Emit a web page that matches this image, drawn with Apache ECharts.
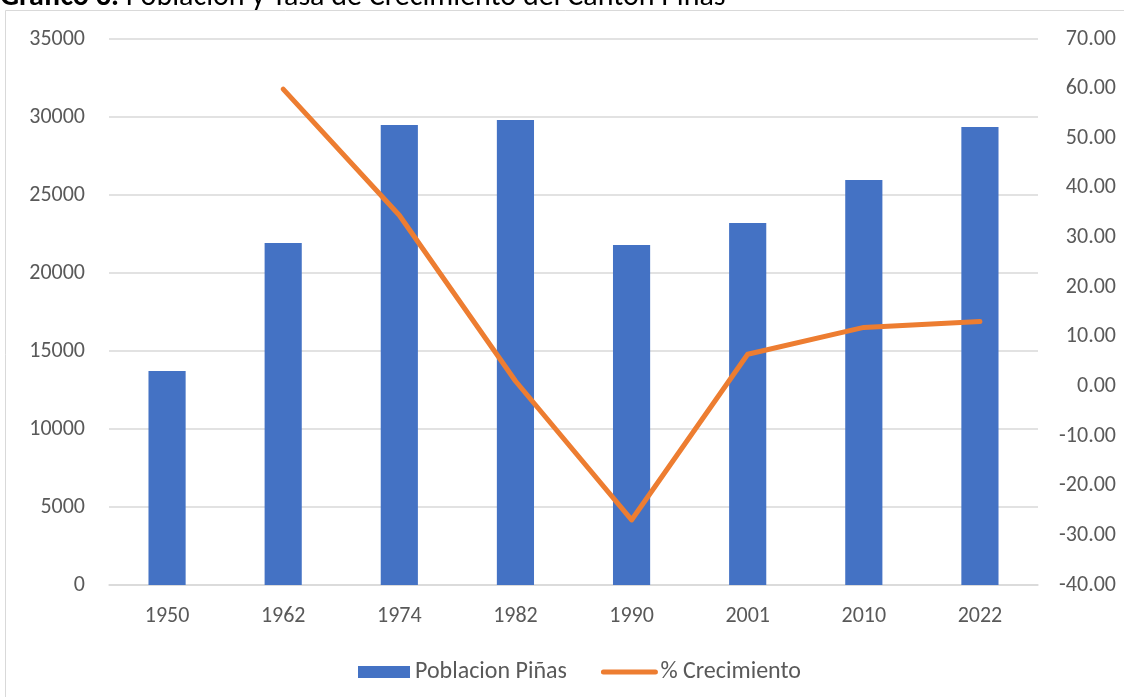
<!DOCTYPE html>
<html>
<head>
<meta charset="utf-8">
<script src="https://cdn.jsdelivr.net/npm/echarts@6/dist/echarts.min.js"></script>
<style>html,body{margin:0;padding:0;background:#fff;}#c{width:1124px;height:697px;}</style>
</head>
<body>
<div id="c"></div>
<script>
const years = ['1950','1962','1974','1982','1990','2001','2010','2022'];
const poblacion = [13720, 21920, 29490, 29810, 21800, 23210, 25960, 29360];
const crecimiento = [null, 59.9, 34.5, 1.1, -26.9, 6.5, 11.9, 13.1];
const titleBold = 'Gráfico 3.';
const titleRest = ' Población y Tasa de Crecimiento del Cantón Piñas';

const FONT = 'Carlito, Calibri, "Liberation Sans", sans-serif';
const FS = 22;
const chart = echarts.init(document.getElementById('c'), null, {renderer: 'canvas'});
chart.setOption({
  animation: false,
  backgroundColor: '#fff',
  textStyle: {fontFamily: FONT},
  title: {
    text: '{b|' + titleBold + '}{r|' + titleRest + '}',
    left: 0, top: -18, padding: 0,
    textStyle: {fontWeight: 'normal', rich: {
      b: {fontWeight: 'bold', fontSize: 30, color: '#000', fontFamily: FONT},
      r: {fontWeight: 'normal', fontSize: 30, color: '#000', fontFamily: FONT}
    }}
  },
  graphic: [{
    type: 'rect', shape: {x: 5.5, y: 10.5, width: 1130, height: 700},
    style: {fill: null, stroke: '#d9d9d9', lineWidth: 1}, z: -1
  }],
  grid: {left: 109, right: 86, top: 39, bottom: 112, containLabel: false},
  legend: {
    bottom: 8, left: 353, itemGap: 34, itemWidth: 52, itemHeight: 12,
    textStyle: {fontSize: 24, color: '#595959', fontFamily: FONT},
    data: [
      {name: 'Poblacion Piñas', icon: 'rect'},
      {name: '% Crecimiento', itemStyle: {opacity: 0}, lineStyle: {width: 5, cap: 'round', color: '#ED7D31'}}
    ]
  },
  xAxis: {
    type: 'category', data: years,
    axisTick: {show: false},
    axisLine: {lineStyle: {color: '#d9d9d9', width: 1.5}},
    axisLabel: {fontSize: FS, color: '#595959', margin: 20, fontFamily: FONT}
  },
  yAxis: [{
    type: 'value', min: 0, max: 35000, interval: 5000,
    axisLine: {show: false}, axisTick: {show: false},
    splitLine: {lineStyle: {color: '#d9d9d9', width: 1.5}},
    axisLabel: {fontSize: FS, color: '#595959', margin: 24, fontFamily: FONT,
      formatter: v => String(v)}
  }, {
    type: 'value', min: -40, max: 70, interval: 10,
    axisLine: {show: false}, axisTick: {show: false}, splitLine: {show: false},
    axisLabel: {fontSize: FS, color: '#595959', margin: 78, align: 'right', fontFamily: FONT,
      formatter: v => v.toFixed(2)}
  }],
  series: [{
    name: 'Poblacion Piñas', type: 'bar', data: poblacion, barWidth: '32%',
    itemStyle: {color: '#4472C4'}
  }, {
    name: '% Crecimiento', type: 'line', yAxisIndex: 1, data: crecimiento,
    symbol: 'none', showSymbol: false, connectNulls: false,
    lineStyle: {color: '#ED7D31', width: 5, cap: 'round', join: 'round'},
    itemStyle: {color: '#ED7D31'}
  }]
});
</script>
</body>
</html>
